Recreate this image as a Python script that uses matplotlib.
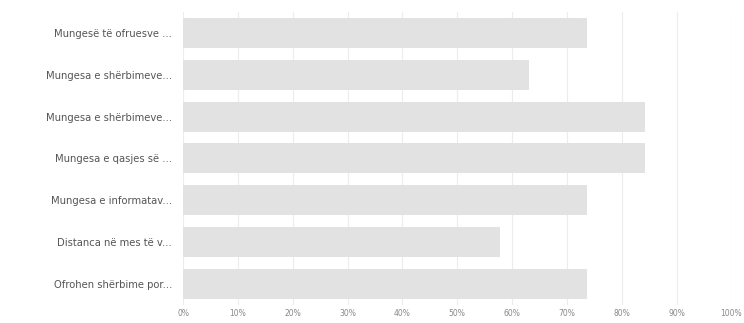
import numpy as np
import matplotlib.pyplot as plt

categories = [
    "Mungesë të ofruesve ...",
    "Mungesa e shërbimeve...",
    "Mungesa e shërbimeve...",
    "Mungesa e qasjes së ...",
    "Mungesa e informatav...",
    "Distanca në mes të v...",
    "Ofrohen shërbime por...",
]
counts = [14, 12, 16, 16, 14, 11, 14]
total = 19
ticks = np.arange(0, 101, 10)

shares = [c / total * 100 for c in counts]

fig = plt.figure(figsize=(7.44, 3.23), dpi=100)
ax = fig.add_axes([0.246, 0.056, 0.737, 0.907])

y = np.arange(len(categories))
ax.barh(y, shares, height=0.72, color='#e2e2e2', zorder=2)

ax.set_xlim(0, 100)
ax.set_ylim(len(categories) - 0.5, -0.5)
ax.set_xticks(ticks)
ax.set_xticklabels([f"{t}%" for t in ticks], fontsize=5.5, color='#888888')
ax.set_yticks(y)
ax.set_yticklabels(categories, fontsize=7.2, color='#555555')
ax.tick_params(length=0)
ax.tick_params(axis='y', pad=8)
ax.tick_params(axis='x', pad=3)
ax.grid(axis='x', color='#ececec', linewidth=0.8, zorder=0)
for s in ax.spines.values():
    s.set_visible(False)

fig.savefig('out.png', dpi=100)
